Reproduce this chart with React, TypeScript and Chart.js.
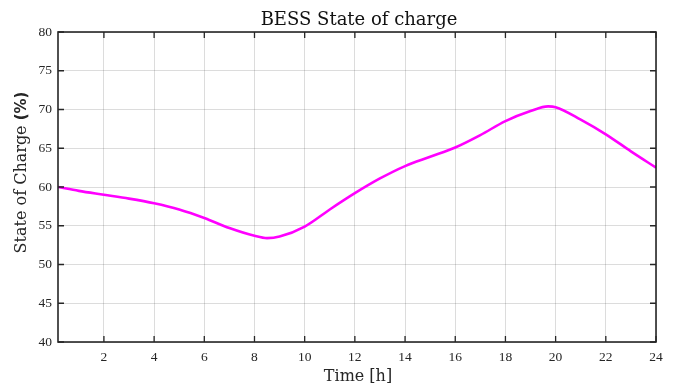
import React, { useEffect, useRef } from "react";
import { Chart, registerables } from "chart.js";

Chart.register(...registerables);

const hours = [0.17, 1, 2, 3, 4, 5, 6, 7, 8, 8.5, 9, 10, 11, 12, 13, 14, 15, 16, 17, 18, 19, 19.7, 20, 21, 22, 23, 24];
const soc = [60.0, 59.5, 59.0, 58.5, 57.9, 57.1, 56.0, 54.7, 53.7, 53.4, 53.6, 54.9, 57.1, 59.2, 61.1, 62.7, 63.9, 65.1, 66.7, 68.5, 69.8, 70.4, 70.3, 68.7, 66.8, 64.6, 62.5];
const xTicks = [2, 4, 6, 8, 10, 12, 14, 16, 18, 20, 22, 24];
const yTicks = [40, 45, 50, 55, 60, 65, 70, 75, 80];
const titleText = "BESS State of charge";
const xLabel = "Time [h]";
const yLabelMain = "State of Charge ";
const yLabelUnit = "(%)";

const AXIS_COLOR = "#262626";

const decorPlugin = {
  id: "decor",
  afterDraw(chart: any) {
    const ctx = chart.ctx;
    const a = chart.chartArea;
    const xs = chart.scales.x;
    const ys = chart.scales.y;
    ctx.save();
    // box
    ctx.strokeStyle = AXIS_COLOR;
    ctx.lineWidth = 1.6;
    ctx.strokeRect(a.left, a.top, a.right - a.left, a.bottom - a.top);
    // inward ticks
    ctx.lineWidth = 1.3;
    const tl = 6;
    ctx.beginPath();
    xTicks.forEach((v) => {
      const px = xs.getPixelForValue(v);
      ctx.moveTo(px, a.bottom);
      ctx.lineTo(px, a.bottom - tl);
      ctx.moveTo(px, a.top);
      ctx.lineTo(px, a.top + tl);
    });
    yTicks.forEach((v) => {
      const py = ys.getPixelForValue(v);
      ctx.moveTo(a.left, py);
      ctx.lineTo(a.left + tl, py);
      ctx.moveTo(a.right, py);
      ctx.lineTo(a.right - tl, py);
    });
    ctx.stroke();

    // title
    const cx = (a.left + a.right) / 2;
    ctx.fillStyle = "#111";
    ctx.font = "18px 'DejaVu Serif'";
    ctx.textAlign = "center";
    ctx.textBaseline = "alphabetic";
    ctx.fillText(titleText, cx + 2, 25);

    // x label
    ctx.fillStyle = AXIS_COLOR;
    ctx.font = "16px 'DejaVu Serif'";
    ctx.fillText(xLabel, cx + 1, 381);

    // y label (mixed fonts)
    ctx.translate(25.5, 172.5);
    ctx.rotate(-Math.PI / 2);
    ctx.textAlign = "left";
    const f1 = "16px 'DejaVu Serif'";
    const f2 = "bold 15px 'DejaVu Sans'";
    ctx.font = f1;
    const w1 = ctx.measureText(yLabelMain).width;
    ctx.font = f2;
    const w2 = ctx.measureText(yLabelUnit).width;
    const start = -(w1 + w2) / 2;
    ctx.font = f1;
    ctx.fillText(yLabelMain, start, 0);
    ctx.font = f2;
    ctx.fillText(yLabelUnit, start + w1, 0);
    ctx.restore();
  },
};

export default function App() {
  const canvasRef = useRef<HTMLCanvasElement | null>(null);

  useEffect(() => {
    const canvas = canvasRef.current;
    if (!canvas) return;
    const chart = new Chart(canvas, {
      type: "line",
      data: {
        datasets: [
          {
            label: "SOC",
            data: hours.map((h, i) => ({ x: h, y: soc[i] })),
            borderColor: "#ff00ff",
            backgroundColor: "#ff00ff",
            borderWidth: 2.6,
            pointRadius: 0,
            cubicInterpolationMode: "monotone",
            fill: false,
          },
        ],
      },
      options: {
        animation: false,
        responsive: true,
        maintainAspectRatio: false,
        layout: { padding: { top: 32, right: 18, left: 0, bottom: 0 } },
        plugins: {
          legend: { display: false },
          title: { display: false },
          tooltip: { enabled: false },
        },
        scales: {
          x: {
            type: "linear",
            min: 0.17,
            max: 24,
            afterFit: (s: any) => {
              s.height = 43;
            },
            afterBuildTicks: (s: any) => {
              s.ticks = xTicks.map((v) => ({ value: v }));
            },
            grid: { color: "rgba(38,38,38,0.16)", lineWidth: 1, drawTicks: false },
            border: { display: false },
            ticks: {
              padding: 7,
              maxRotation: 0,
              autoSkip: false,
              color: AXIS_COLOR,
              font: { family: "'Liberation Serif'", size: 13.5 },
            },
          },
          y: {
            type: "linear",
            min: 40,
            max: 80,
            afterFit: (s: any) => {
              s.width = 58;
            },
            afterBuildTicks: (s: any) => {
              s.ticks = yTicks.map((v) => ({ value: v }));
            },
            grid: { color: "rgba(38,38,38,0.16)", lineWidth: 1, drawTicks: false },
            border: { display: false },
            ticks: {
              padding: 6,
              autoSkip: false,
              color: AXIS_COLOR,
              font: { family: "'Liberation Serif'", size: 13.5 },
            },
          },
        },
      },
      plugins: [decorPlugin],
    });
    return () => chart.destroy();
  }, []);

  return (
    <div style={{ position: "fixed", left: 0, top: 0, width: 674, height: 385, background: "#fff" }}>
      <canvas ref={canvasRef} />
    </div>
  );
}
